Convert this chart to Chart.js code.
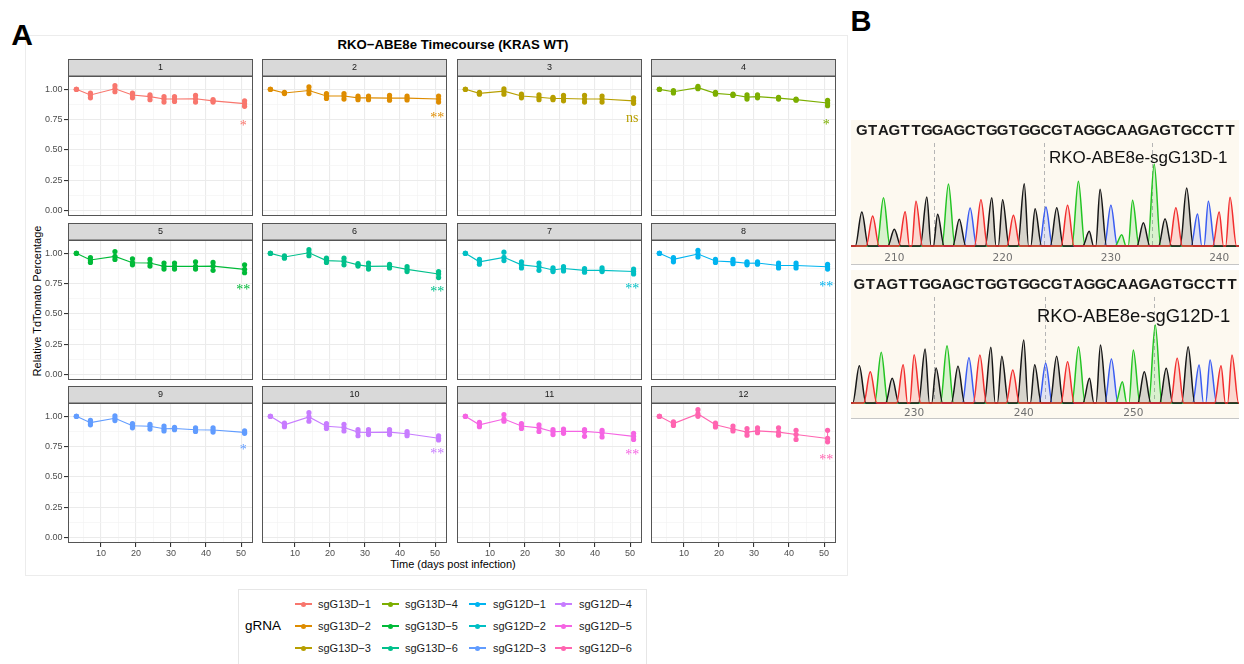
<!DOCTYPE html>
<html>
<head>
<meta charset="utf-8">
<script src="https://cdn.jsdelivr.net/npm/chart.js@4.4.1/dist/chart.umd.min.js"></script>
<style>
  body { margin: 0; background: #fff; font-family: "Liberation Sans", Arial, sans-serif; }
  #page { position: relative; width: 1244px; height: 664px; overflow: hidden; background: #fff; }
  .abs { position: absolute; white-space: nowrap; line-height: 1; }
  .c { transform: translate(-50%, -50%); }
  canvas { position: absolute; }
</style>
</head>
<body>
<div id="page">
  <div class="abs" style="left:25px;top:35px;width:821px;height:539px;border:1px solid #ececec;"></div>
  <div class="abs c" style="left:22px;top:35px;font-size:30px;font-weight:bold;">A</div>
  <div class="abs c" style="left:861px;top:21px;font-size:29px;font-weight:bold;">B</div>
  <div class="abs c" style="left:453px;top:44.5px;font-size:13.2px;font-weight:bold;">RKO−ABE8e Timecourse (KRAS WT)</div>
  <div class="abs c" style="left:453px;top:563.5px;font-size:11px;">Time (days post infection)</div>
  <div class="abs" style="left:37px;top:301px;font-size:11px;transform:translate(-50%,-50%) rotate(-90deg);">Relative TdTomato Percentage</div>
  <div class="abs" id="legend" style="left:238px;top:589px;width:407px;height:80px;border:1px solid #e6e6e6;"></div>
</div>
<script>
// timecourse data (relative tdTomato)
const days = [3, 7, 14, 19, 24, 28, 31, 37, 42, 51];
const guides = ['sgG13D−1', 'sgG13D−2', 'sgG13D−3', 'sgG13D−4', 'sgG13D−5', 'sgG13D−6',
                'sgG12D−1', 'sgG12D−2', 'sgG12D−3', 'sgG12D−4', 'sgG12D−5', 'sgG12D−6'];
const guideColors = ['#F8766D', '#DE8C00', '#B79F00', '#7CAE00', '#00BA38', '#00C08B',
                     '#00BFC4', '#00B4F0', '#619CFF', '#C77CFF', '#F564E3', '#FF64B0'];
const legendColors = ['#F8766D', '#DE8C00', '#B79F00', '#7CAE00', '#00BA38', '#00C08B',
                      '#00B4F0', '#00BFC4', '#619CFF', '#C77CFF', '#F564E3', '#FF64B0'];
const meanRel = [
  [1.00, 0.953, 1.005, 0.953, 0.940, 0.920, 0.920, 0.922, 0.905, 0.882],
  [1.00, 0.970, 0.990, 0.945, 0.945, 0.930, 0.930, 0.928, 0.928, 0.920],
  [1.00, 0.967, 0.985, 0.945, 0.935, 0.925, 0.925, 0.920, 0.920, 0.905],
  [1.00, 0.980, 1.014, 0.967, 0.955, 0.936, 0.940, 0.928, 0.915, 0.887],
  [1.00, 0.945, 0.975, 0.923, 0.920, 0.893, 0.893, 0.893, 0.895, 0.868],
  [1.00, 0.970, 1.005, 0.940, 0.935, 0.905, 0.893, 0.895, 0.868, 0.830],
  [1.00, 0.930, 0.967, 0.905, 0.890, 0.863, 0.875, 0.860, 0.860, 0.850],
  [1.00, 0.950, 0.995, 0.937, 0.930, 0.918, 0.920, 0.900, 0.900, 0.890],
  [1.00, 0.948, 0.984, 0.923, 0.918, 0.898, 0.900, 0.890, 0.887, 0.868],
  [1.00, 0.930, 0.995, 0.918, 0.908, 0.870, 0.868, 0.870, 0.857, 0.820],
  [1.00, 0.930, 0.978, 0.920, 0.905, 0.873, 0.876, 0.876, 0.865, 0.835],
  [1.00, 0.940, 1.020, 0.930, 0.895, 0.870, 0.880, 0.870, 0.850, 0.818]
];
const lowRel = [
  [1.00, 0.930, 0.980, 0.930, 0.915, 0.895, 0.900, 0.895, 0.895, 0.860],
  [1.00, 0.965, 0.965, 0.925, 0.920, 0.915, 0.915, 0.910, 0.912, 0.895],
  [1.00, 0.960, 0.960, 0.930, 0.915, 0.915, 0.905, 0.895, 0.895, 0.885],
  [1.00, 0.970, 1.005, 0.960, 0.950, 0.920, 0.930, 0.920, 0.910, 0.865],
  [1.00, 0.925, 0.950, 0.905, 0.895, 0.870, 0.870, 0.870, 0.860, 0.840],
  [1.00, 0.960, 0.980, 0.925, 0.905, 0.895, 0.870, 0.880, 0.850, 0.800],
  [1.00, 0.910, 0.940, 0.880, 0.860, 0.850, 0.855, 0.845, 0.850, 0.830],
  [1.00, 0.930, 0.970, 0.925, 0.915, 0.905, 0.910, 0.880, 0.880, 0.870],
  [1.00, 0.930, 0.965, 0.905, 0.895, 0.880, 0.890, 0.875, 0.870, 0.860],
  [1.00, 0.915, 0.960, 0.900, 0.880, 0.840, 0.850, 0.850, 0.840, 0.805],
  [1.00, 0.915, 0.960, 0.900, 0.875, 0.850, 0.860, 0.835, 0.830, 0.810],
  [1.00, 0.925, 1.000, 0.912, 0.880, 0.845, 0.865, 0.845, 0.810, 0.790]
];
const highRel = [
  [1.00, 0.970, 1.030, 0.970, 0.955, 0.940, 0.940, 0.950, 0.915, 0.905],
  [1.00, 0.975, 1.020, 0.965, 0.965, 0.945, 0.945, 0.950, 0.945, 0.945],
  [1.00, 0.975, 1.005, 0.960, 0.955, 0.935, 0.950, 0.950, 0.945, 0.930],
  [1.00, 0.990, 1.025, 0.975, 0.960, 0.955, 0.955, 0.935, 0.920, 0.910],
  [1.00, 0.965, 1.015, 0.955, 0.950, 0.920, 0.920, 0.930, 0.925, 0.905],
  [1.00, 0.980, 1.030, 0.960, 0.960, 0.915, 0.920, 0.910, 0.890, 0.850],
  [1.00, 0.950, 1.010, 0.930, 0.920, 0.880, 0.890, 0.875, 0.880, 0.870],
  [1.00, 0.965, 1.025, 0.950, 0.950, 0.930, 0.930, 0.920, 0.920, 0.910],
  [1.00, 0.967, 1.005, 0.940, 0.935, 0.920, 0.910, 0.905, 0.905, 0.880],
  [1.00, 0.945, 1.030, 0.940, 0.935, 0.890, 0.890, 0.890, 0.875, 0.840],
  [1.00, 0.950, 1.015, 0.940, 0.930, 0.890, 0.895, 0.890, 0.885, 0.860],
  [1.00, 0.955, 1.055, 0.945, 0.920, 0.900, 0.905, 0.905, 0.885, 0.885]
];
const sigLabels = ['*', '**', 'ns', '*', '**', '**', '**', '**', '*', '**', '**', '**'];
const sigY = [0.725, 0.788, 0.761, 0.733, 0.725, 0.709, 0.731, 0.75, 0.747, 0.714, 0.706, 0.665];
const sigDay = 50.6;
const yTicks = [0, 0.25, 0.5, 0.75, 1.0];
const yTickLabels = ['0.00', '0.25', '0.50', '0.75', '1.00'];
const xTicks = [10, 20, 30, 40, 50];

// Sanger traces (panel B)
const seqRead = 'GTAGTTGGAGCTGGTGGCGTAGGCAAGAGTGCCTT';
const topStart = 207;
const topPeaks = [102, 90, 145, 50, 103, 134, 147, 95, 186, 80, 114, 139, 145, 139, 92, 187, 112, 117,
                  115, 122, 194, 44, 170, 122, 34, 137, 70, 246, 82, 115, 174, 96, 134, 102, 146];
const bottomStart = 225;
const bottomPeaks = [112, 94, 152, 74, 115, 145, 162, 105, 172, 110, 136, 144, 167, 140, 99, 189, 115, 119,
                     140, 124, 169, 74, 174, 132, 64, 159, 94, 234, 104, 134, 169, 114, 129, 112, 144];
const topAxisTicks = [210, 220, 230, 240];
const bottomAxisTicks = [230, 240, 250];
const topCuts = [213.7, 223.8, 233.8];
const bottomCuts = [231.8, 241.9, 251.9];

const page = document.getElementById('page');
const family = '"Liberation Sans", Arial, sans-serif';
const plotLefts = [68, 262, 457, 651];
const stripTops = [59, 223, 386];

const facetPlugin = {
  id: 'facet',
  afterDraw(chart, args, opts) {
    const ctx = chart.ctx, a = chart.chartArea;
    ctx.save();
    ctx.fillStyle = '#d9d9d9';
    ctx.fillRect(a.left, a.top - 17, a.right - a.left, 17);
    ctx.strokeStyle = '#555';
    ctx.lineWidth = 1;
    ctx.strokeRect(a.left + 0.5, a.top - 16.5, a.right - a.left - 1, 16.5);
    ctx.strokeRect(a.left + 0.5, a.top + 0.5, a.right - a.left - 1, a.bottom - a.top - 1);
    ctx.fillStyle = '#1a1a1a';
    ctx.font = '9px ' + family;
    ctx.textAlign = 'center';
    ctx.textBaseline = 'middle';
    ctx.fillText(opts.strip, (a.left + a.right) / 2, a.top - 8);
    // significance mark
    const px = chart.scales.x.getPixelForValue(sigDay);
    const py = chart.scales.y.getPixelForValue(opts.sigY);
    ctx.fillStyle = opts.color;
    ctx.font = '14px "Liberation Serif", "DejaVu Serif", serif';
    ctx.textBaseline = 'alphabetic';
    const shift = opts.sig === 'ns' ? 0.23 : 0.5;
    ctx.fillText(opts.sig, px, py + 14 * shift);
    ctx.restore();
  }
};

function facetChart(i) {
  const r = Math.floor(i / 4), c = i % 4;
  const leftCol = c === 0, bottomRow = r === 2;
  const cv = document.createElement('canvas');
  cv.width = 234;
  cv.height = 175;
  cv.style.left = (plotLefts[c] - 45) + 'px';
  cv.style.top = stripTops[r] + 'px';
  page.appendChild(cv);
  const col = guideColors[i];
  const yGrid = yTicks.concat(yTicks.slice(1).map((v, k) => (v + yTicks[k]) / 2));
  const xGrid = xTicks.flatMap(v => [v - 5, v]);

  new Chart(cv, {
    type: 'scatter',
    data: {
      datasets: [{
        // replicate points
        data: days.flatMap((d, k) => [{x: d, y: lowRel[i][k]}, {x: d, y: meanRel[i][k]}, {x: d, y: highRel[i][k]}]),
        backgroundColor: col,
        borderWidth: 0,
        pointRadius: 2.6
      }, {
        // mean line
        data: days.map((d, k) => ({x: d, y: meanRel[i][k]})),
        showLine: true,
        borderColor: col,
        borderWidth: 1.1,
        pointRadius: 0
      }, {
        // error bars
        data: days.flatMap((d, k) => [{x: d, y: lowRel[i][k]}, {x: d, y: highRel[i][k]}, {x: d, y: null}]),
        showLine: true,
        spanGaps: false,
        borderColor: col,
        borderWidth: 1,
        pointRadius: 0
      }]
    },
    options: {
      responsive: false,
      animation: false,
      events: [],
      layout: { padding: { top: 17, right: 1, left: 0, bottom: 0 } },
      plugins: {
        legend: { display: false },
        tooltip: { enabled: false },
        facet: { strip: String(i + 1), color: col, sig: sigLabels[i], sigY: sigY[i] }
      },
      scales: {
        x: {
          type: 'linear',
          min: 0.6,
          max: 53.4,
          afterBuildTicks: s => { s.ticks = xGrid.map(v => ({value: v})); },
          afterFit: s => { s.height = 18; },
          ticks: {
            display: bottomRow,
            autoSkip: false,
            maxRotation: 0,
            padding: 1,
            color: '#4d4d4d',
            font: { size: 9, family: family },
            callback: v => xTicks.includes(v) ? String(v) : ''
          },
          grid: {
            color: ctx => ctx.tick && xTicks.includes(ctx.tick.value) ? '#ebebeb' : '#f3f3f3',
            lineWidth: ctx => ctx.tick && xTicks.includes(ctx.tick.value) ? 1.1 : 0.7,
            tickColor: ctx => bottomRow && ctx.tick && xTicks.includes(ctx.tick.value) ? '#333' : 'rgba(0,0,0,0)',
            tickLength: 4
          },
          border: { display: false }
        },
        y: {
          type: 'linear',
          min: -0.044,
          max: 1.11,
          afterBuildTicks: s => { s.ticks = yGrid.map(v => ({value: v})); },
          afterFit: s => { s.width = 45; },
          ticks: {
            display: leftCol,
            autoSkip: false,
            padding: 1.5,
            color: '#4d4d4d',
            font: { size: 9, family: family },
            callback: v => {
              const k = yTicks.indexOf(v);
              return k >= 0 ? yTickLabels[k] : '';
            }
          },
          grid: {
            color: ctx => ctx.tick && yTicks.includes(ctx.tick.value) ? '#ebebeb' : '#f3f3f3',
            lineWidth: ctx => ctx.tick && yTicks.includes(ctx.tick.value) ? 1.1 : 0.7,
            tickColor: ctx => leftCol && ctx.tick && yTicks.includes(ctx.tick.value) ? '#333' : 'rgba(0,0,0,0)',
            tickLength: 4
          },
          border: { display: false }
        }
      }
    },
    plugins: [facetPlugin]
  });
}

for (let i = 0; i < 12; i++) facetChart(i);

// legend (key centres and text starts, relative to the legend box)
const legend = document.getElementById('legend');
const keyX = [64, 151, 238, 324];
const textX = [79, 166, 254, 340];
const rowY = [14, 36, 58];
legend.insertAdjacentHTML('beforeend',
  '<div class="abs" style="left:6px;top:36px;font-size:13.5px;transform:translateY(-50%);">gRNA</div>');
guides.forEach((g, i) => {
  const c = Math.floor(i / 3), r = i % 3;
  const col = legendColors[i];
  legend.insertAdjacentHTML('beforeend',
    `<div class="abs" style="left:${keyX[c] - 8.5}px;top:${rowY[r] - 0.6}px;width:17px;height:1.2px;background:${col};"></div>` +
    `<div class="abs" style="left:${keyX[c] - 2.5}px;top:${rowY[r] - 2.5}px;width:5px;height:5px;border-radius:50%;background:${col};"></div>` +
    `<div class="abs" style="left:${textX[c]}px;top:${rowY[r]}px;font-size:11px;color:#1a1a1a;transform:translateY(-50%);">${g}</div>`);
});

// chromatograms
const baseLine = { C: '#3a5cf2', A: '#22c422', G: '#161616', T: '#f22e2e' };
const baseFill = { C: 'rgba(58,92,242,0.15)', A: 'rgba(34,196,34,0.16)', G: 'rgba(0,0,0,0.15)', T: 'rgba(242,46,46,0.16)' };

const tracePlugin = {
  id: 'trace',
  beforeDraw(chart) {
    const ctx = chart.ctx;
    ctx.save();
    ctx.fillStyle = '#fdf9f0';
    ctx.fillRect(0, 0, chart.width, chart.height);
    ctx.fillStyle = '#c6c6c6';
    ctx.fillRect(0, chart.height - 1, chart.width, 1);
    ctx.restore();
  },
  beforeDatasetsDraw(chart, args, opts) {
    const ctx = chart.ctx, a = chart.chartArea;
    ctx.save();
    ctx.strokeStyle = '#b5b5b5';
    ctx.lineWidth = 1;
    ctx.setLineDash([4, 3]);
    opts.cuts.forEach(v => {
      const x = Math.round(chart.scales.x.getPixelForValue(v)) + 0.5;
      ctx.beginPath();
      ctx.moveTo(x, a.top + opts.cutTop);
      ctx.lineTo(x, a.bottom);
      ctx.stroke();
    });
    ctx.restore();
  },
  afterDatasetsDraw(chart, args, opts) {
    const ctx = chart.ctx;
    ctx.save();
    ctx.fillStyle = '#1a1a1a';
    ctx.font = 'bold 15px ' + family;
    ctx.textAlign = 'center';
    ctx.textBaseline = 'middle';
    for (let k = 0; k < seqRead.length; k++) {
      ctx.fillText(seqRead[k], chart.scales.x.getPixelForValue(opts.start + k), opts.seqY);
    }
    ctx.restore();
  }
};

function traceChart(cfg) {
  const cv = document.createElement('canvas');
  cv.width = 388;
  cv.height = cfg.h;
  cv.style.left = '851px';
  cv.style.top = cfg.top + 'px';
  page.appendChild(cv);
  // first dataset is drawn on top
  const datasets = ['T', 'G', 'A', 'C'].map(b => {
    const pts = [{x: cfg.xMin, y: 0}, {x: cfg.xMax, y: 0}];
    for (let k = 0; k < seqRead.length; k++) {
      if (seqRead[k] !== b) continue;
      const p = cfg.start + k;
      pts.push({x: p - 0.6, y: 0}, {x: p, y: cfg.peaks[k]}, {x: p + 0.6, y: 0});
    }
    pts.sort((u, v) => u.x - v.x);
    return {
      data: pts,
      showLine: true,
      fill: 'origin',
      borderColor: baseLine[b],
      backgroundColor: baseFill[b],
      borderWidth: 1.5,
      pointRadius: 0,
      cubicInterpolationMode: 'monotone'
    };
  });
  new Chart(cv, {
    type: 'scatter',
    data: { datasets: datasets },
    options: {
      responsive: false,
      animation: false,
      events: [],
      layout: { padding: 0 },
      plugins: {
        legend: { display: false },
        tooltip: { enabled: false },
        trace: { cuts: cfg.cuts, cutTop: cfg.cutTop, start: cfg.start, seqY: cfg.seqY }
      },
      scales: {
        x: {
          type: 'linear',
          min: cfg.xMin,
          max: cfg.xMax,
          afterBuildTicks: s => { s.ticks = cfg.ticks.map(v => ({value: v})); },
          afterFit: s => { s.height = cfg.axisH; },
          ticks: {
            padding: cfg.pad,
            color: '#707070',
            font: { size: 10.5, family: '"DejaVu Sans", sans-serif' },
            maxRotation: 0,
            autoSkip: false
          },
          grid: { display: false, drawTicks: false },
          border: { display: false }
        },
        y: { display: false, min: -3, max: cfg.yMax }
      }
    },
    plugins: [tracePlugin]
  });
}

traceChart({ top: 120, h: 145, axisH: 18, pad: 5, yMax: 378, xMin: 206, xMax: 241.83,
             start: topStart, peaks: topPeaks, ticks: topAxisTicks, cuts: topCuts, cutTop: 23, seqY: 11 });
traceChart({ top: 270, h: 149, axisH: 15, pad: 3, yMax: 399, xMin: 224.24, xMax: 259.64,
             start: bottomStart, peaks: bottomPeaks, ticks: bottomAxisTicks, cuts: bottomCuts, cutTop: 27, seqY: 15 });

page.insertAdjacentHTML('beforeend',
  '<div class="abs" style="left:1049px;top:157px;font-size:17px;color:#111;transform:translateY(-50%);">RKO-ABE8e-sgG13D-1</div>' +
  '<div class="abs" style="left:1037px;top:316px;font-size:18.4px;color:#111;transform:translateY(-50%);">RKO-ABE8e-sgG12D-1</div>');
</script>
</body>
</html>
